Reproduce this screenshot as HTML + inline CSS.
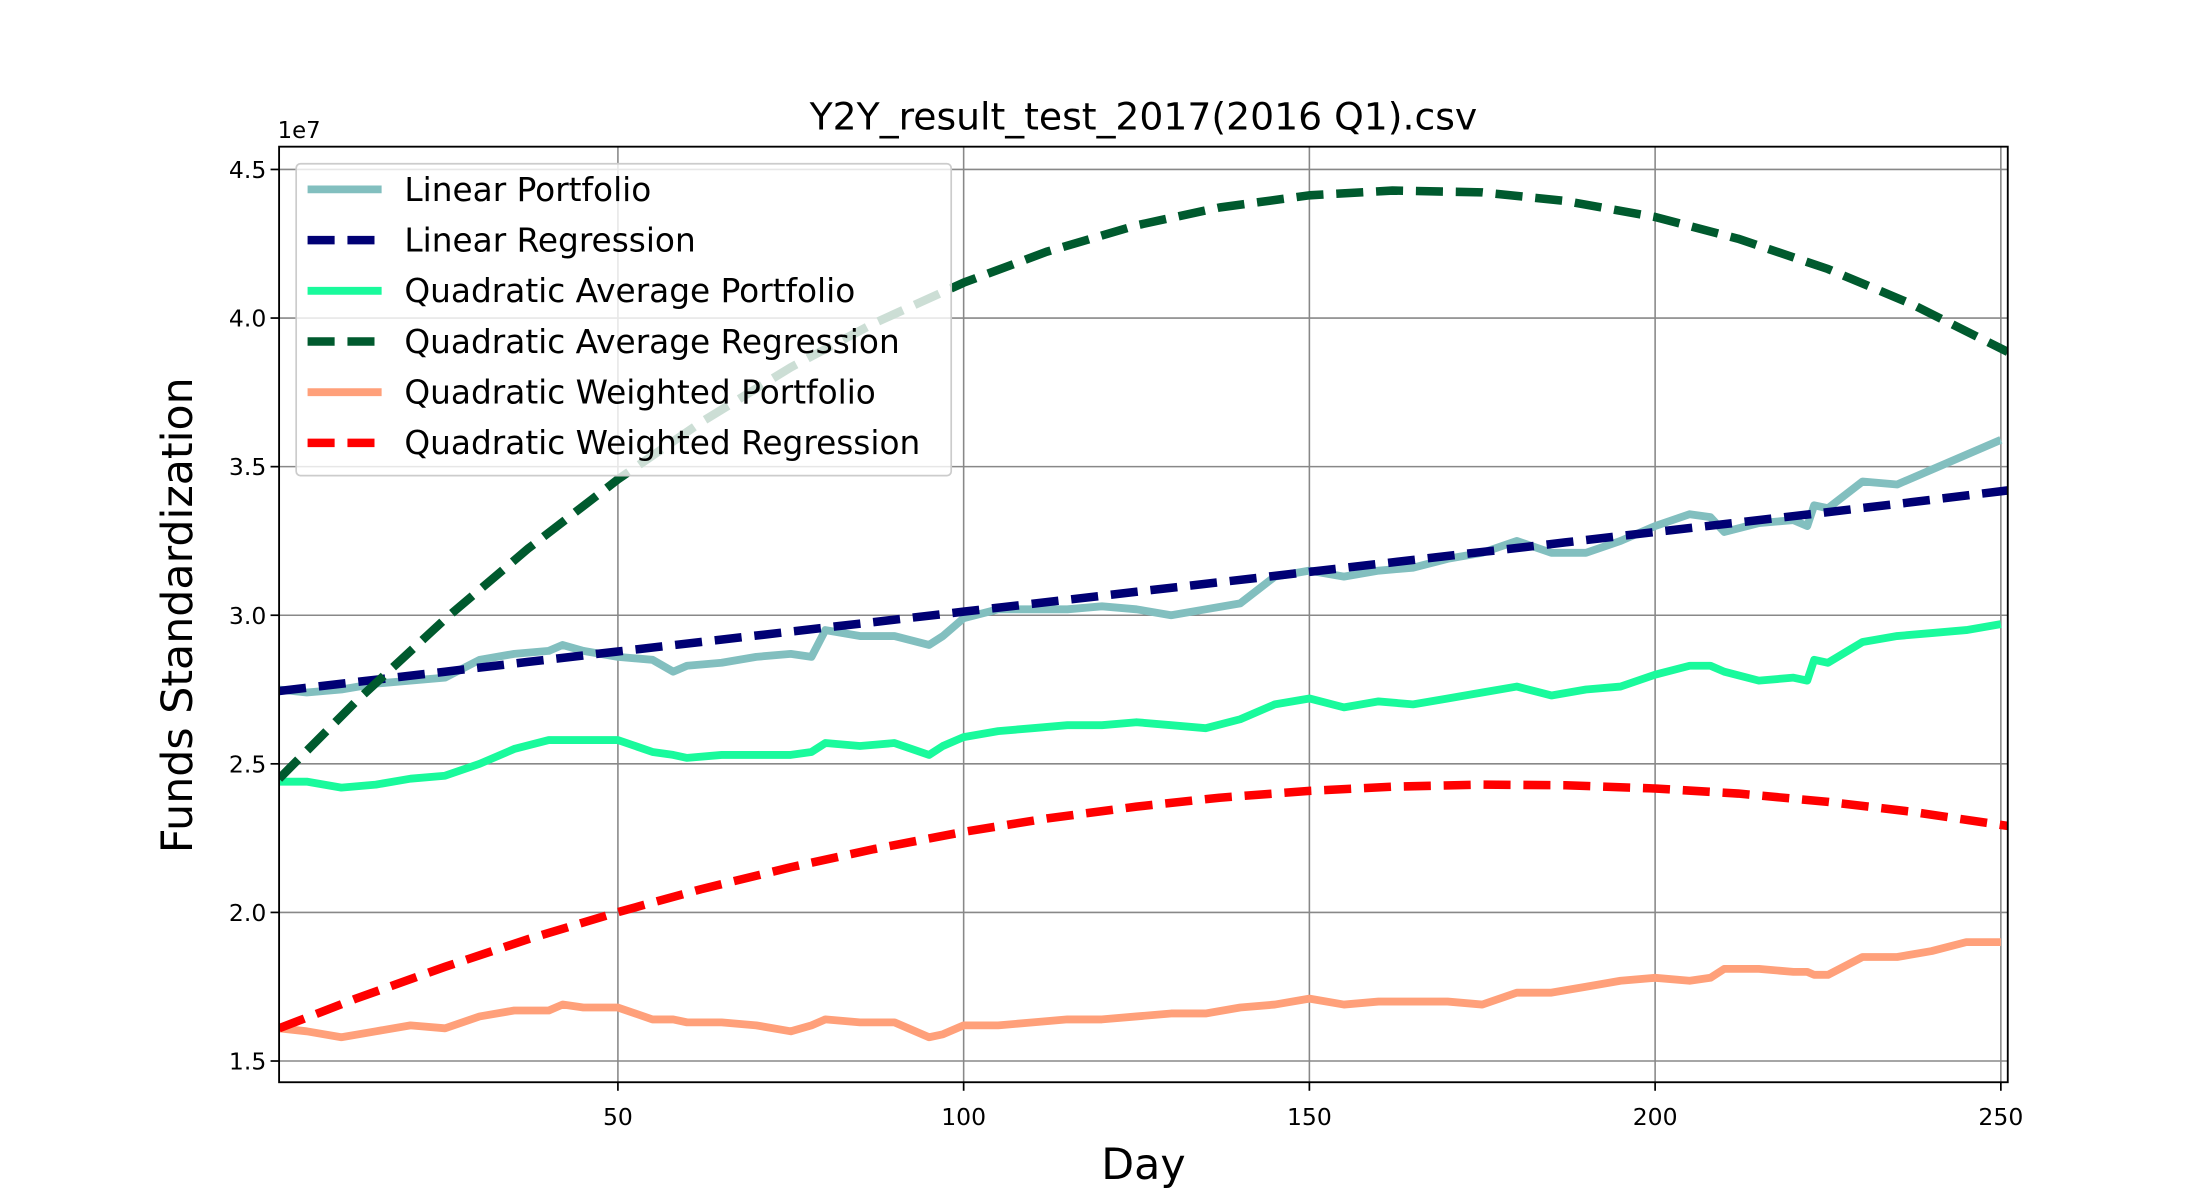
<!DOCTYPE html>
<html><head><meta charset="utf-8"><style>
body{margin:0;background:#fff}
svg{display:block;font-family:"DejaVu Sans","Liberation Sans",sans-serif}
</style></head><body>
<svg id="chart" width="2200" height="1200" viewBox="0 0 1545 842.7" preserveAspectRatio="none" xmlns="http://www.w3.org/2000/svg">
<rect width="1545" height="842.7" fill="#fff"/>
<text x="803" y="91" font-size="26.5" text-anchor="middle">Y2Y_result_test_2017(2016 Q1).csv</text>
<text x="195" y="97" font-size="16">1e7</text>
<text x="803" y="828" font-size="30" text-anchor="middle">Day</text>
<text transform="translate(135,432) rotate(-90)" font-size="30" text-anchor="middle">Funds Standardization</text>
<g id="grid"></g>
<g id="series"></g>
<rect x="196" y="103" width="1214" height="657" fill="none" stroke="#000" stroke-width="1.3"/>
<g id="ticks"></g>
<g id="legend"></g>
</svg>
<script>
const days = [1,5,10,15,20,25,30,35,40,42,45,50,55,58,60,65,70,75,78,80,85,90,95,97,100,105,110,115,120,125,130,135,140,145,150,155,160,165,170,175,180,185,190,195,200,205,208,210,215,220,222,223,225,230,235,240,245,250];
const linPort = [2.75,2.74,2.75,2.77,2.78,2.79,2.85,2.87,2.88,2.90,2.88,2.86,2.85,2.81,2.83,2.84,2.86,2.87,2.86,2.95,2.93,2.93,2.90,2.93,2.99,3.02,3.02,3.02,3.03,3.02,3.00,3.02,3.04,3.13,3.15,3.13,3.15,3.16,3.19,3.21,3.25,3.21,3.21,3.25,3.30,3.34,3.33,3.28,3.31,3.32,3.30,3.37,3.36,3.45,3.44,3.49,3.54,3.59];
const quadAvgPort = [2.44,2.44,2.42,2.43,2.45,2.46,2.50,2.55,2.58,2.58,2.58,2.58,2.54,2.53,2.52,2.53,2.53,2.53,2.54,2.57,2.56,2.57,2.53,2.56,2.59,2.61,2.62,2.63,2.63,2.64,2.63,2.62,2.65,2.70,2.72,2.69,2.71,2.70,2.72,2.74,2.76,2.73,2.75,2.76,2.80,2.83,2.83,2.81,2.78,2.79,2.78,2.85,2.84,2.91,2.93,2.94,2.95,2.97];
const quadWtPort = [1.61,1.60,1.58,1.60,1.62,1.61,1.65,1.67,1.67,1.69,1.68,1.68,1.64,1.64,1.63,1.63,1.62,1.60,1.62,1.64,1.63,1.63,1.58,1.59,1.62,1.62,1.63,1.64,1.64,1.65,1.66,1.66,1.68,1.69,1.71,1.69,1.70,1.70,1.70,1.69,1.73,1.73,1.75,1.77,1.78,1.77,1.78,1.81,1.81,1.80,1.80,1.79,1.79,1.85,1.85,1.87,1.90,1.90];
const regDays = [1,12,25,37,50,62,75,87,100,112,125,137,150,162,175,187,200,212,225,237,251];
const linReg = [2.745,2.775,2.81,2.843,2.878,2.91,2.945,2.977,3.012,3.044,3.079,3.111,3.146,3.178,3.213,3.245,3.28,3.312,3.347,3.38,3.42];
const quadAvgReg = [2.45,2.707,2.987,3.224,3.457,3.649,3.834,3.982,4.119,4.223,4.312,4.372,4.413,4.429,4.423,4.394,4.340,4.267,4.165,4.048,3.886];
const quadWtReg = [1.61,1.709,1.817,1.910,2.001,2.078,2.152,2.213,2.271,2.316,2.356,2.386,2.409,2.423,2.430,2.428,2.417,2.40,2.372,2.339,2.291];
const xTicks = [50,100,150,200,250];
const yTicks = [1.5,2.0,2.5,3.0,3.5,4.0,4.5];
const legendLabels = ["Linear Portfolio","Linear Regression","Quadratic Average Portfolio","Quadratic Average Regression","Quadratic Weighted Portfolio","Quadratic Weighted Regression"];

const L=196,R=1410,T=103,B=760;
const X=d=>L+(d-1)/(251-1)*(R-L);
const Y=v=>119+(4.5-v)*208.7;
const NS="http://www.w3.org/2000/svg";
function mk(tag,attrs,parent){const e=document.createElementNS(NS,tag);for(const k in attrs)e.setAttribute(k,attrs[k]);parent.appendChild(e);return e;}
const grid=document.getElementById('grid'),ticks=document.getElementById('ticks'),ser=document.getElementById('series'),leg=document.getElementById('legend');
xTicks.forEach(t=>{
  const g=mk('line',{x1:X(t),x2:X(t),y1:T,y2:B,stroke:'#888','stroke-width':1.1},grid);
  
  
  const tk=mk('line',{x1:X(t),x2:X(t),y1:B,y2:B+6,stroke:'#000','stroke-width':1.2},ticks);
  
  
  const tx=mk('text',{x:X(t),y:B+30,'font-size':16.5,'text-anchor':'middle'},ticks);
  tx.textContent=t;
  
  
});
yTicks.forEach(t=>{
  const g=mk('line',{x1:L,x2:R,y1:Y(t),y2:Y(t),stroke:'#888','stroke-width':1.1},grid);
  
  
  const tk=mk('line',{x1:L-6,x2:L,y1:Y(t),y2:Y(t),stroke:'#000','stroke-width':1.2},ticks);
  
  
  const tx=mk('text',{x:L-9,y:Y(t)+6,'font-size':16.5,'text-anchor':'end'},ticks);
  tx.textContent=t.toFixed(1);
  
  
});
const series=[
 {xs:days,ys:linPort,c:'#82bfbf',dash:null,n:'linear-portfolio-line'},
 {xs:regDays,ys:linReg,c:'#000074',dash:'19 9',n:'linear-regression-line'},
 {xs:days,ys:quadAvgPort,c:'#19fa9c',dash:null,n:'quadratic-average-portfolio-line'},
 {xs:regDays,ys:quadAvgReg,c:'#005a2e',dash:'19 9',n:'quadratic-average-regression-line'},
 {xs:days,ys:quadWtPort,c:'#ffa07a',dash:null,n:'quadratic-weighted-portfolio-line'},
 {xs:regDays,ys:quadWtReg,c:'#ff0000',dash:'19 9',n:'quadratic-weighted-regression-line'}
];
const cp=mk('clipPath',{id:'clip'},ser);mk('rect',{x:L,y:T,width:R-L,height:B-T},cp);
series.forEach(s=>{
  const pts=s.xs.map((d,i)=>X(d).toFixed(2)+','+Y(s.ys[i]).toFixed(2)).join(' ');
  const a={points:pts,fill:'none',stroke:s.c,'stroke-width':s.dash?6:5.5,'stroke-linejoin':'round','clip-path':'url(#clip)'};
  if(s.dash)a['stroke-dasharray']=s.dash;
  const p=mk('polyline',a,ser);
  
  
});
const box=mk('rect',{x:208,y:115,width:460,height:219,rx:3,fill:'#fff','fill-opacity':0.8,stroke:'#ccc','stroke-width':1.2},leg);


legendLabels.forEach((lab,i)=>{
  const y=133+i*35.6,s=series[i];
  const a={x1:216,x2:268,y1:y,y2:y,stroke:s.c,'stroke-width':s.dash?6:5.5};
  if(s.dash)a['stroke-dasharray']='19 9';
  const ln=mk('line',a,leg);
  
  
  const t=mk('text',{x:284,y:y+8,'font-size':23},leg);
  t.textContent=lab;
  
  
});
</script>
</body></html>
